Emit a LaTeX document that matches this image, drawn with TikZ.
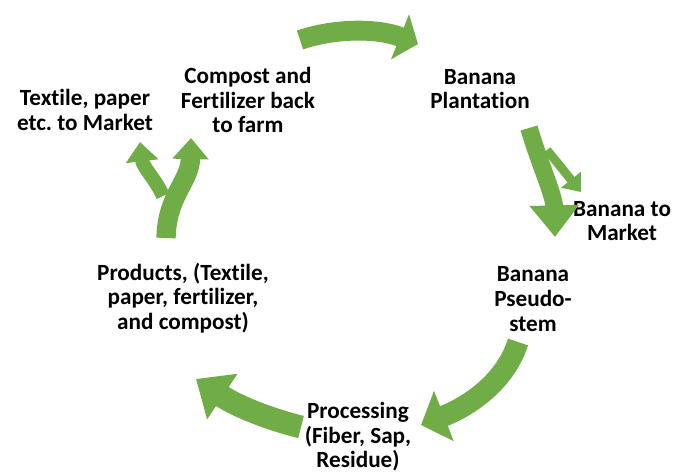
\documentclass[tikz,border=0pt]{standalone}
\usepackage{fontspec}
\setmainfont{Carlito}[Ligatures={NoCommon}]
\usetikzlibrary{arrows.meta}
\definecolor{leaf}{RGB}{112,173,71}
\frenchspacing
\tikzset{
  lbl/.style={font=\fontsize{13.2}{14}\selectfont\bfseries, align=center, inner sep=0pt},
  flow/.style n args={3}{draw=leaf, line width=#1, -{Triangle[width=#2, length=#3]}}
}
\begin{document}
\begin{tikzpicture}[x=0.02cm,y=-0.02cm]
      \useasboundingbox (0,0) rectangle (678,473);
      \draw
        (480,89) node[lbl] (plant){Banana\\Plantation}
        (622,221) node[lbl] (market){Banana to\\Market}
        (533,299) node[lbl] (stem){Banana\\Pseudo-\\stem}
        (358,437) node[lbl] (proc){Processing\\(Fiber, Sap,\\Residue)}
        (183,298) node[lbl] (prod){Products, (Textile,\\paper, fertilizer,\\and compost)}
        (248,100) node[lbl] (farm){Compost and\\Fertilizer back\\to farm}
        (85,110) node[lbl] (textile){Textile, paper\\etc. to Market};
      % arrow ends
      \coordinate (f1) at (300,40);  \coordinate (p1) at (418,44);
      \coordinate (p2) at (529,128); \coordinate (s2) at (555,237);
      \coordinate (b2) at (547,150); \coordinate (m2) at (581,192);
      \coordinate (s3) at (518,342); \coordinate (r3) at (421,425);
      \coordinate (r4) at (301,427); \coordinate (d4) at (196,379);
      \coordinate (d5) at (166,238); \coordinate (c5) at (191,138);
      \coordinate (k5) at (163,196); \coordinate (t5) at (140,142);
      \begin{scope}
        \draw[flow={11.3pt}{27pt}{11pt}] (f1) .. controls (335,28) and (378,28) .. (p1);
        \draw[flow={10pt}{27pt}{18pt}] (p2) .. controls (540,165) and (554,195) .. (s2);
        \draw[flow={5pt}{14pt}{9pt}] (b2) -- (m2);
        \draw[flow={12pt}{30pt}{14pt}] (s3) .. controls (506,380) and (472,405) .. (r3);
        \draw[flow={13pt}{30pt}{18pt}] (r4) .. controls (265,418) and (235,405) .. (d4);
        \draw[flow={8pt}{18pt}{11pt}] (k5) .. controls (155,178) and (143,168) .. (t5);
        \draw[flow={11pt}{20pt}{12pt}] (d5) .. controls (167,195) and (190,182) .. (c5);
      \end{scope}
\end{tikzpicture}
\end{document}
